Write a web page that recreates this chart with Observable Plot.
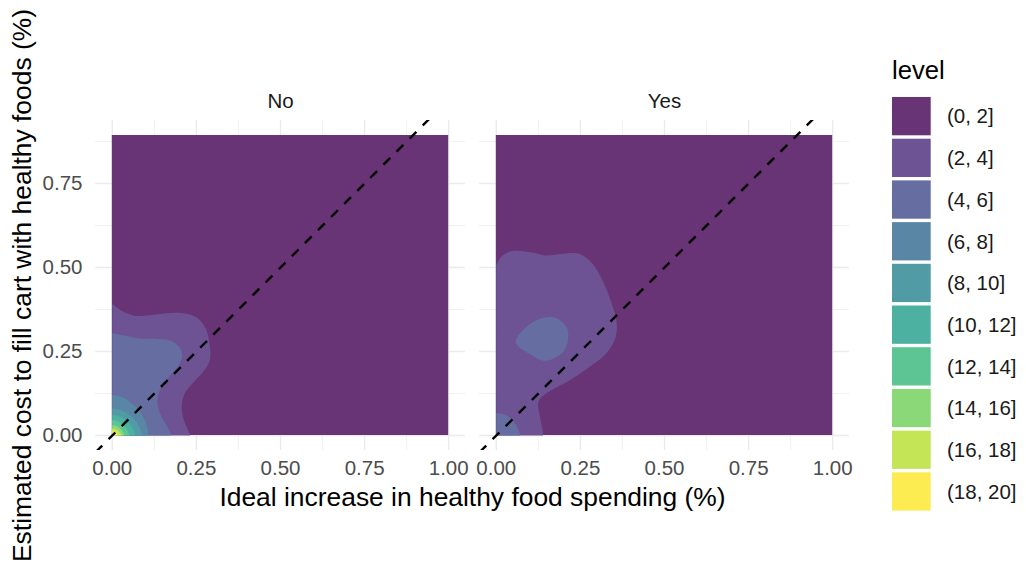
<!DOCTYPE html>
<html>
<head>
<meta charset="utf-8">
<script src="https://cdn.jsdelivr.net/npm/d3@7"></script>
<script src="https://cdn.jsdelivr.net/npm/@observablehq/plot@0.6"></script>
<style>
  html, body { margin: 0; padding: 0; background: #fff; }
  #chart { position: relative; width: 1026px; height: 566px; }
  #chart svg { position: absolute; left: 0; top: 0; }
</style>
</head>
<body>
<div id="chart"></div>
<script>
// ---- data -------------------------------------------------------------
const facets = ["No", "Yes"];
const levels = ["(0, 2]", "(2, 4]", "(4, 6]", "(6, 8]", "(8, 10]",
                "(10, 12]", "(12, 14]", "(14, 16]", "(16, 18]", "(18, 20]"];

const xTicks = [0, 0.25, 0.5, 0.75, 1];
const yTicks = [0, 0.25, 0.5, 0.75];
const xMinor = [0.125, 0.375, 0.625, 0.875];
const yMinor = [0.125, 0.375, 0.625, 0.875];

// extent of the density grid (the lowest band covers all of it)
const densityX = [0, 1];
const densityY = [0, 0.893];

const xTitle = "Ideal increase in healthy food spending (%)";
const yTitle = "Estimated cost to fill cart with healthy foods (%)";
const legendTitle = "level";

// reference line y = x
const refIntercept = 0;
const refSlope = 1;

// band outlines anchored on the axes (x, y), listed from the y axis round to the x axis
const noBand2 = [[0, 0], [0, 0.38], [0, 0.39], [0.03, 0.37], [0.07, 0.356], [0.11, 0.358],
  [0.16, 0.364], [0.21, 0.364], [0.25, 0.352], [0.278, 0.318], [0.29, 0.265], [0.29, 0.225],
  [0.272, 0.192], [0.243, 0.16], [0.218, 0.13], [0.207, 0.095], [0.21, 0.055], [0.224, 0.018],
  [0.23, 0.005], [0.231, 0]];
const noBand3 = [[0, 0], [0, 0.295], [0, 0.303], [0.035, 0.298], [0.08, 0.289], [0.13, 0.288],
  [0.17, 0.283], [0.198, 0.265], [0.208, 0.238], [0.197, 0.208], [0.173, 0.18], [0.15, 0.152],
  [0.137, 0.122], [0.134, 0.095], [0.141, 0.068], [0.158, 0.036], [0.172, 0.01], [0.175, 0]];
const noBand4 = [[0, 0], [0, 0.112], [0, 0.119], [0.03, 0.114], [0.058, 0.095], [0.083, 0.07],
  [0.098, 0.042], [0.106, 0.015], [0.108, 0]];
const noBand5 = [[0, 0], [0, 0.075], [0, 0.08], [0.025, 0.076], [0.05, 0.062], [0.07, 0.042],
  [0.083, 0.02], [0.088, 0]];
const noBand6 = [[0, 0], [0, 0.056], [0, 0.06], [0.02, 0.057], [0.04, 0.046], [0.055, 0.03],
  [0.065, 0.013], [0.068, 0]];
const noBand7 = [[0, 0], [0, 0.042], [0, 0.045], [0.016, 0.042], [0.031, 0.033], [0.042, 0.02],
  [0.048, 0.008], [0.05, 0]];
const noBand8 = [[0, 0], [0, 0.028], [0, 0.03], [0.012, 0.028], [0.024, 0.02], [0.032, 0.01],
  [0.036, 0]];
const noBand9 = [[0, 0], [0, 0.02], [0.01, 0.019], [0.019, 0.013], [0.025, 0.006], [0.027, 0]];
const noBand10 = [[0, 0], [0, 0.012], [0.008, 0.011], [0.014, 0.007], [0.018, 0]];

const yesBand2 = [[0, 0], [0, 0.495], [0, 0.506], [0.019, 0.536], [0.048, 0.549], [0.098, 0.546],
  [0.147, 0.536], [0.197, 0.541], [0.246, 0.541], [0.286, 0.511], [0.316, 0.461], [0.34, 0.402],
  [0.357, 0.342], [0.355, 0.293], [0.326, 0.243], [0.276, 0.203], [0.217, 0.164], [0.147, 0.124],
  [0.125, 0.1], [0.128, 0.065], [0.136, 0.025], [0.139, 0.005], [0.139, 0]];
const yesBand3 = [[0, 0], [0, 0.058], [0, 0.065], [0.029, 0.06], [0.053, 0.04], [0.067, 0.015],
  [0.071, 0]];

// closed band outlines that touch no axis
const yesIsland3 = [[0.058, 0.283], [0.088, 0.322], [0.128, 0.347], [0.177, 0.35], [0.209, 0.322],
  [0.214, 0.293], [0.202, 0.253], [0.167, 0.228], [0.137, 0.223], [0.098, 0.243], [0.063, 0.268]];

const edgeBands = [
  {facet: "No", band: 1, points: noBand2},
  {facet: "No", band: 2, points: noBand3},
  {facet: "No", band: 3, points: noBand4},
  {facet: "No", band: 4, points: noBand5},
  {facet: "No", band: 5, points: noBand6},
  {facet: "No", band: 6, points: noBand7},
  {facet: "No", band: 7, points: noBand8},
  {facet: "No", band: 8, points: noBand9},
  {facet: "No", band: 9, points: noBand10},
  {facet: "Yes", band: 1, points: yesBand2},
  {facet: "Yes", band: 2, points: yesBand3}
];
const islandBands = [
  {facet: "Yes", band: 2, points: yesIsland3}
];

// ---- tables -------------------------------------------------------------
const toRows = (list) => list.flatMap((b, i) =>
  b.points.map(([x, y]) => ({facet: b.facet, level: levels[b.band], id: i, x, y})));
const edgeRows = toRows(edgeBands);
const islandRows = toRows(islandBands);
const baseRows = facets.map((f) => ({
  facet: f, level: levels[0],
  x1: densityX[0], x2: densityX[1], y1: densityY[0], y2: densityY[1]
}));

// ggplot-style 5% expansion of the continuous scales
const expand = ([a, b]) => [a - 0.05 * (b - a), b + 0.05 * (b - a)];
const xDomain = expand(densityX);
const yDomain = expand(densityY);
const refLine = [{x1: xDomain[0], x2: xDomain[1]}];

// viridis bands at 80% opacity over white
const bandColors = d3.quantize(d3.interpolateViridis, levels.length)
  .map((c) => d3.interpolateRgb("white", c)(0.8));

const fmt = d3.format(".2f");
const font = "'Liberation Sans', Arial, Helvetica, sans-serif";

const chart = Plot.plot({
  width: 1026,
  height: 566,
  marginTop: 120,
  marginRight: 176,
  marginBottom: 116,
  marginLeft: 95,
  style: {fontFamily: font, background: "transparent"},
  x: {domain: xDomain},
  y: {domain: yDomain},
  fx: {domain: facets, paddingInner: 0.0364, paddingOuter: 0, label: null},
  color: {domain: levels, range: bandColors},
  marks: [
    Plot.gridX({ticks: xMinor, stroke: "#EBEBEB", strokeOpacity: 1, strokeWidth: 0.7}),
    Plot.gridY({ticks: yMinor, stroke: "#EBEBEB", strokeOpacity: 1, strokeWidth: 0.7}),
    Plot.gridX({ticks: xTicks, stroke: "#EBEBEB", strokeOpacity: 1, strokeWidth: 1.4}),
    Plot.gridY({ticks: yTicks, stroke: "#EBEBEB", strokeOpacity: 1, strokeWidth: 1.4}),
    Plot.rect(baseRows, {x1: "x1", x2: "x2", y1: "y1", y2: "y2", fx: "facet", fill: "level"}),
    Plot.line(edgeRows, {x: "x", y: "y", z: "id", fx: "facet", fill: "level", stroke: "none",
      curve: "catmull-rom"}),
    Plot.line(islandRows, {x: "x", y: "y", z: "id", fx: "facet", fill: "level", stroke: "none",
      curve: "catmull-rom-closed"}),
    Plot.link(refLine, {
      x1: "x1", x2: "x2",
      y1: (d) => refIntercept + refSlope * d.x1,
      y2: (d) => refIntercept + refSlope * d.x2,
      stroke: "black", strokeWidth: 2.4, strokeDasharray: "9.5,9", clip: true
    }),
    Plot.axisX({ticks: xTicks, tickFormat: fmt, tickSize: 0, tickPadding: 10,
      fontSize: 20.5, fill: "#4D4D4D", label: null}),
    Plot.axisY({ticks: yTicks, tickFormat: fmt, tickSize: 0, tickPadding: 13,
      fontSize: 20.5, fill: "#4D4D4D", label: null}),
    Plot.axisFx({anchor: "top", tickSize: 0, tickPadding: 13, fontSize: 20.5,
      fill: "#1A1A1A", label: null}),
    Plot.text([xTitle], {text: (d) => d, facet: "super", frameAnchor: "bottom", dy: 55,
      fontSize: 26.4, fill: "black"}),
    Plot.text([yTitle], {text: (d) => d, facet: "super", frameAnchor: "left", rotate: -90,
      textAnchor: "middle", dx: -73, fontSize: 26.4, fill: "black"})
  ]
});

const root = document.getElementById("chart");
root.appendChild(chart);

// ---- legend -------------------------------------------------------------
const colorScale = chart.scale("color");
const legend = d3.select(root).append("svg")
  .attr("width", 1026).attr("height", 566)
  .style("font-family", font)
  .style("pointer-events", "none");

legend.append("text")
  .attr("x", 892).attr("y", 79)
  .attr("font-size", 25.7).attr("fill", "black")
  .text(legendTitle);

const keyTop = 97, keyStep = 41.7, keyW = 38.7, keyH = 38.3;
const keys = legend.selectAll("g.key").data(levels).join("g").attr("class", "key")
  .attr("transform", (d, i) => `translate(892,${keyTop + i * keyStep})`);
keys.append("rect")
  .attr("width", keyW).attr("height", keyH)
  .attr("fill", (d) => colorScale.apply(d));
keys.append("text")
  .attr("x", 55).attr("y", keyH / 2 + 7.3)
  .attr("font-size", 20.5).attr("fill", "#1A1A1A")
  .text((d) => d);
</script>
</body>
</html>
